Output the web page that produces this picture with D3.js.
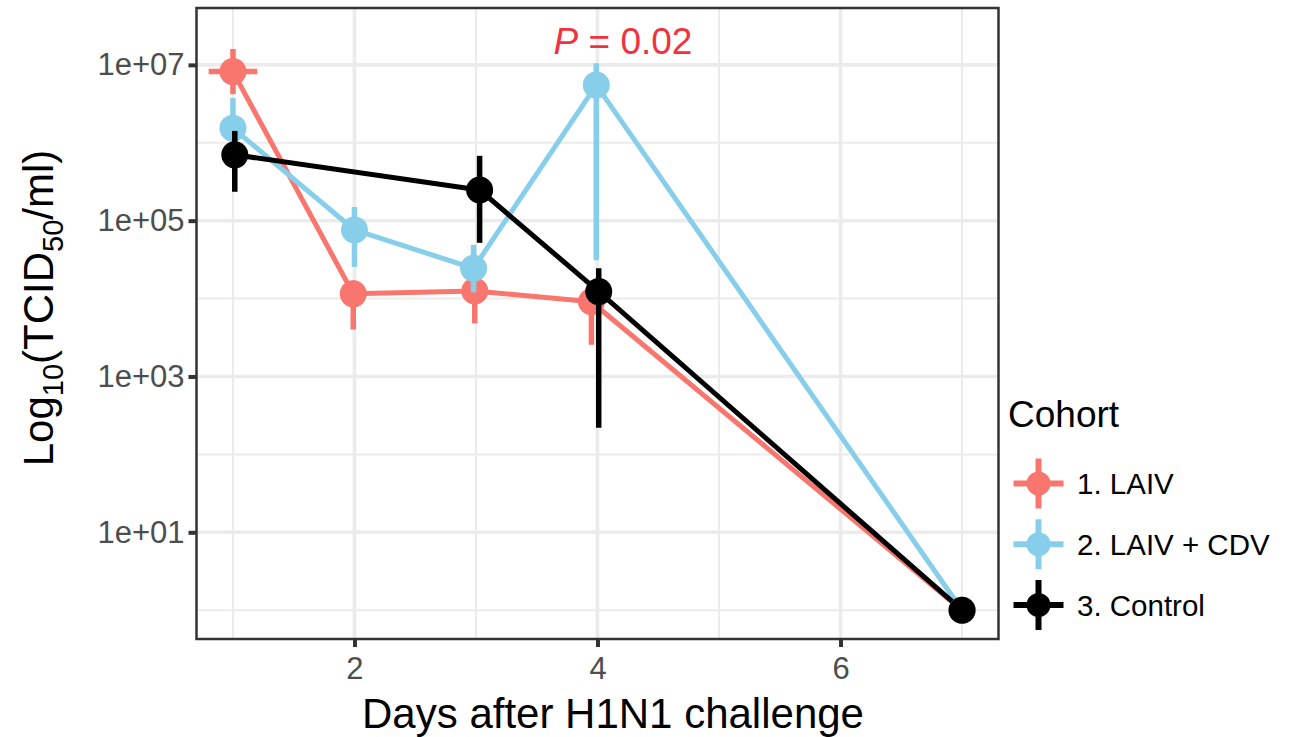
<!DOCTYPE html>
<html>
<head>
<meta charset="utf-8">
<script src="https://cdn.jsdelivr.net/npm/d3@7"></script>
<style>
  body { margin: 0; background: #fff; }
  svg { font-family: "Liberation Sans", Arial, sans-serif; }
</style>
</head>
<body>
<div id="chart"></div>
<script>
// Cohorts and their colours
const cohorts = ["1. LAIV", "2. LAIV + CDV", "3. Control"];
const cohortColors = ["#F8766D", "#87CEEB", "#000000"];

// 1. LAIV (TCID50/ml, mean with low/high of the error bar)
const laivDays = [1, 1.99, 2.99, 3.95, 7];
const laivTiter = [8.2e6, 1.15e4, 1.25e4, 9.1e3, 1];
const laivLow = [4.2e6, 4.0e3, 4.8e3, 2.55e3, 1];
const laivHigh = [1.6e7, 1.7e4, 2.0e4, 1.5e4, 1];
// horizontal error bar, only on day 1
const laivDayLow = [0.8, null, null, null, null];
const laivDayHigh = [1.2, null, null, null, null];

// 2. LAIV + CDV
const cdvDays = [1, 2, 2.98, 3.99, 7];
const cdvTiter = [1.54e6, 7.6e4, 2.45e4, 5.5e6, 1];
const cdvLow = [1.0e6, 2.55e4, 1.2e4, 3.1e4, 1];
const cdvHigh = [3.77e6, 1.5e5, 4.9e4, 1.05e7, 1];

// 3. Control
const controlDays = [1.015, 3.03, 4.01, 7];
const controlTiter = [7.0e5, 2.48e5, 1.23e4, 1];
const controlLow = [2.35e5, 5.2e4, 220, 1];
const controlHigh = [1.42e6, 6.8e5, 2.45e4, 1];

// Axis ticks and limits
const xMajorTicks = [2, 4, 6];
const xMinorTicks = [1, 3, 5, 7];
const yMajorTicks = [1e1, 1e3, 1e5, 1e7];
const yMinorTicks = [1e0, 1e2, 1e4, 1e6];
const xLimits = [0.7, 7.3];
const yLimits = [0.427, 5.37e7];

const pLabel = "0.02";

// Build one series table per cohort
const series = [
    { name: cohorts[0], days: laivDays, titer: laivTiter, low: laivLow, high: laivHigh, dayLow: laivDayLow, dayHigh: laivDayHigh },
    { name: cohorts[1], days: cdvDays, titer: cdvTiter, low: cdvLow, high: cdvHigh },
    { name: cohorts[2], days: controlDays, titer: controlTiter, low: controlLow, high: controlHigh }
].map((s, i) => ({
    name: s.name,
    color: cohortColors[i],
    points: s.days.map((d, j) => ({
        day: d, titer: s.titer[j], low: s.low[j], high: s.high[j],
        dayLow: s.dayLow ? s.dayLow[j] : null,
        dayHigh: s.dayHigh ? s.dayHigh[j] : null
    }))
}));

// Panel geometry
const margin = { top: 8, left: 196.5 };
const width = 802, height = 631;

const svg = d3.select("#chart")
    .append("svg")
    .attr("width", 1302)
    .attr("height", 737);

const g = svg.append("g")
    .attr("transform", `translate(${margin.left},${margin.top})`);

const x = d3.scaleLinear().domain(xLimits).range([0, width]);
const y = d3.scaleLog().domain(yLimits).range([height, 0]);

// Grid lines (minor thinner than major)
const grid = g.append("g");
grid.selectAll(".ygrid-minor").data(yMinorTicks).join("line")
    .attr("x1", 0).attr("x2", width)
    .attr("y1", d => y(d)).attr("y2", d => y(d))
    .attr("stroke", "#EBEBEB").attr("stroke-width", 2);
grid.selectAll(".xgrid-minor").data(xMinorTicks).join("line")
    .attr("y1", 0).attr("y2", height)
    .attr("x1", d => x(d)).attr("x2", d => x(d))
    .attr("stroke", "#EBEBEB").attr("stroke-width", 2);
grid.selectAll(".ygrid-major").data(yMajorTicks).join("line")
    .attr("x1", 0).attr("x2", width)
    .attr("y1", d => y(d)).attr("y2", d => y(d))
    .attr("stroke", "#EBEBEB").attr("stroke-width", 3.6);
grid.selectAll(".xgrid-major").data(xMajorTicks).join("line")
    .attr("y1", 0).attr("y2", height)
    .attr("x1", d => x(d)).attr("x2", d => x(d))
    .attr("stroke", "#EBEBEB").attr("stroke-width", 3.6);

// Lines
const line = d3.line().x(d => x(d.day)).y(d => y(d.titer));
g.selectAll(".series-line").data(series).join("path")
    .attr("class", "series-line")
    .attr("d", d => line(d.points))
    .attr("fill", "none")
    .attr("stroke", d => d.color)
    .attr("stroke-width", 5)
    .attr("stroke-linejoin", "round");

// Error bars and points, cohort by cohort
series.forEach(s => {
    const sg = g.append("g");
    sg.selectAll(".vbar").data(s.points).join("line")
        .attr("x1", d => x(d.day)).attr("x2", d => x(d.day))
        .attr("y1", d => y(d.low)).attr("y2", d => y(d.high))
        .attr("stroke", s.color).attr("stroke-width", 5.5);
    sg.selectAll(".hbar").data(s.points.filter(d => d.dayLow != null)).join("line")
        .attr("x1", d => x(d.dayLow)).attr("x2", d => x(d.dayHigh))
        .attr("y1", d => y(d.titer)).attr("y2", d => y(d.titer))
        .attr("stroke", s.color).attr("stroke-width", 5.5);
    sg.selectAll("circle").data(s.points).join("circle")
        .attr("cx", d => x(d.day))
        .attr("cy", d => y(d.titer))
        .attr("r", 13.5)
        .attr("fill", s.color);
});

// Panel border
g.append("rect")
    .attr("width", width).attr("height", height)
    .attr("fill", "none")
    .attr("stroke", "#333333")
    .attr("stroke-width", 2.5);

// Axes
const yAxis = g.append("g")
    .call(d3.axisLeft(y)
        .tickValues(yMajorTicks)
        .tickSize(8)
        .tickPadding(4)
        .tickFormat(d => "1e+" + String(Math.round(Math.log10(d))).padStart(2, "0")));
const xAxis = g.append("g")
    .attr("transform", `translate(0,${height})`)
    .call(d3.axisBottom(x)
        .tickValues(xMajorTicks)
        .tickSize(8)
        .tickPadding(10)
        .tickFormat(d3.format("d")));

[xAxis, yAxis].forEach(a => {
    a.select(".domain").remove();
    a.selectAll(".tick line").attr("stroke", "#333333").attr("stroke-width", 4);
    a.selectAll(".tick text")
        .attr("fill", "#4D4D4D")
        .style("font-size", "31px")
        .style("font-family", "'Liberation Sans', Arial, sans-serif");
});

// P value annotation
const pText = svg.append("text")
    .attr("x", 623)
    .attr("y", 54)
    .attr("text-anchor", "middle")
    .attr("fill", "#F1323E")
    .style("font-size", "37px");
pText.append("tspan").style("font-style", "italic").text("P");
pText.append("tspan").text(" = " + pLabel);

// Axis titles
svg.append("text")
    .attr("x", 613)
    .attr("y", 728)
    .attr("text-anchor", "middle")
    .attr("fill", "#000")
    .style("font-size", "42px")
    .text("Days after H1N1 challenge");

const yTitle = svg.append("text")
    .attr("transform", "translate(53,308) rotate(-90)")
    .attr("text-anchor", "middle")
    .attr("fill", "#000")
    .style("font-size", "42px");
yTitle.append("tspan").text("Log");
yTitle.append("tspan").attr("dy", 10).style("font-size", "29px").text("10");
yTitle.append("tspan").attr("dy", -10).text("(TCID");
yTitle.append("tspan").attr("dy", 10).style("font-size", "29px").text("50");
yTitle.append("tspan").attr("dy", -10).text("/ml)");

// Legend
const legend = svg.append("g").attr("transform", "translate(1008,0)");
legend.append("text")
    .attr("x", 0)
    .attr("y", 427)
    .attr("fill", "#000")
    .style("font-size", "37px")
    .text("Cohort");

const keyY = d3.scalePoint().domain(cohorts).range([483.5, 605]);
const keys = legend.selectAll(".key").data(series).join("g")
    .attr("class", "key")
    .attr("transform", d => `translate(30.5,${keyY(d.name)})`);
keys.append("line")
    .attr("x1", -25).attr("x2", 25)
    .attr("stroke", d => d.color).attr("stroke-width", 6);
keys.append("line")
    .attr("y1", -25).attr("y2", 25)
    .attr("stroke", d => d.color).attr("stroke-width", 6);
keys.append("circle")
    .attr("r", 12)
    .attr("fill", d => d.color);
keys.append("text")
    .attr("x", 38.5)
    .attr("y", 10.5)
    .attr("fill", "#000")
    .style("font-size", "29.5px")
    .text(d => d.name);
</script>
</body>
</html>
